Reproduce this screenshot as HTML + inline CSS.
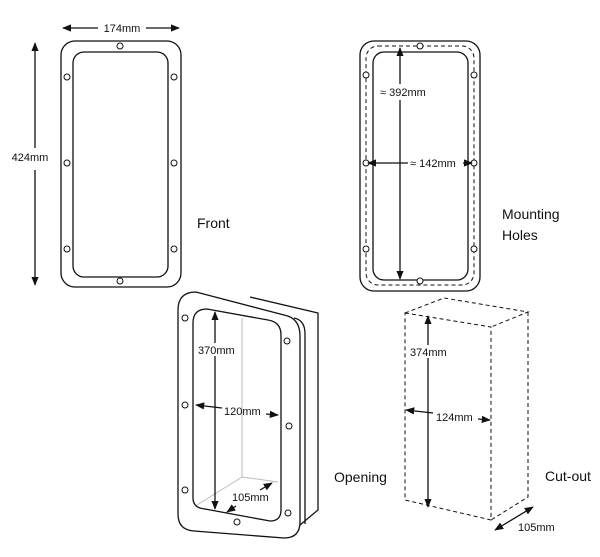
<!DOCTYPE html>
<html><head><style>body{margin:0;background:#fff}svg{display:block}text{font-family:"Liberation Sans",sans-serif;fill:#111}</style></head><body>
<svg width="600" height="557" viewBox="0 0 600 557" xmlns="http://www.w3.org/2000/svg">
<defs><marker id="a" viewBox="0 0 10 10" refX="9" refY="5" markerWidth="7" markerHeight="7" orient="auto-start-reverse"><path d="M0,1 L10,5 L0,9 Z" fill="#111"/></marker></defs>
<g fill="none" stroke="#111" stroke-width="1.3">
<!-- Front -->
<rect x="61" y="41" width="120" height="246" rx="14"/>
<rect x="73" y="52" width="95" height="225" rx="11"/>
<g stroke-width="1"><circle cx="120" cy="46" r="3"/><circle cx="67" cy="77" r="3"/><circle cx="174" cy="77" r="3"/><circle cx="67" cy="163" r="3"/><circle cx="174" cy="163" r="3"/><circle cx="67" cy="249" r="3"/><circle cx="174" cy="249" r="3"/><circle cx="120" cy="281" r="3"/></g>
<line x1="63" y1="28" x2="98" y2="28" marker-start="url(#a)"/><line x1="146" y1="28" x2="179" y2="28" marker-end="url(#a)"/>
<line x1="35" y1="43" x2="35" y2="148" marker-start="url(#a)"/><line x1="35" y1="170" x2="35" y2="285" marker-end="url(#a)"/>
<!-- Mounting -->
<rect x="360" y="41" width="120" height="250" rx="14"/>
<rect x="373" y="52" width="95" height="228" rx="11"/>
<rect x="366" y="46" width="108" height="239" rx="12" stroke-dasharray="4,3" stroke-width="1"/>
<g stroke-width="1" fill="#fff"><circle cx="420" cy="46" r="3"/><circle cx="366" cy="75" r="3"/><circle cx="474" cy="75" r="3"/><circle cx="366" cy="163" r="3"/><circle cx="474" cy="163" r="3"/><circle cx="366" cy="249" r="3"/><circle cx="474" cy="249" r="3"/><circle cx="420" cy="281" r="3"/></g>
<line x1="400" y1="48" x2="400" y2="84" marker-start="url(#a)"/><line x1="400" y1="100" x2="400" y2="279" marker-end="url(#a)"/>
<line x1="368" y1="163" x2="408" y2="163" marker-start="url(#a)"/><line x1="463" y1="163" x2="472" y2="163" marker-end="url(#a)"/>
<!-- Opening 3D -->
<path d="M250,297 L318,313 L318,510 L300,525"/>
<path d="M196,292 Q178,292 178,310 L178,514 Q178,530 194,531 L284,538 Q300,538 300,522 L300,336 Q300,318 284,315 Z" fill="#fff"/>
<path d="M294,318 Q305,320 305,334 L305,524"/>
<path d="M207,309 Q193,309 193,323 L193,498 Q193,508 205,509 L270,521 Q281,521 281,510 L281,335 Q281,322 268,320 Z"/>
<g stroke="#bbb" stroke-width="1"><line x1="242" y1="318" x2="242" y2="477"/><line x1="242" y1="477" x2="197" y2="505"/><line x1="242" y1="477" x2="278" y2="482"/></g>
<g stroke-width="1" fill="#fff"><circle cx="185" cy="318" r="3"/><circle cx="287" cy="341" r="3"/><circle cx="185" cy="405" r="3"/><circle cx="289" cy="426" r="3"/><circle cx="185" cy="490" r="3"/><circle cx="288" cy="513" r="3"/><circle cx="237" cy="522" r="3"/></g>
<line x1="215" y1="312" x2="215" y2="509" marker-start="url(#a)" marker-end="url(#a)"/>
<line x1="196" y1="405" x2="222" y2="408" marker-start="url(#a)"/><line x1="266" y1="414" x2="278" y2="415" marker-end="url(#a)"/>
<line x1="227" y1="512" x2="236" y2="506" marker-start="url(#a)"/><line x1="260" y1="490" x2="272" y2="483" marker-end="url(#a)"/>
<!-- Cut-out -->
<g stroke-dasharray="4,3" stroke-width="1"><path d="M405,313 L491,327 L491,520 L405,500 Z"/><path d="M405,313 L444,298 L528,312 L491,327"/><path d="M528,312 L528,497 L491,520"/></g>
<line x1="428" y1="316" x2="428" y2="507" marker-start="url(#a)" marker-end="url(#a)"/>
<line x1="406" y1="410" x2="433" y2="413" marker-start="url(#a)"/><line x1="478" y1="419" x2="490" y2="420" marker-end="url(#a)"/>
<line x1="495" y1="530" x2="533" y2="507" marker-start="url(#a)" marker-end="url(#a)"/>
</g>
<g font-size="11">
<text x="122" y="32" text-anchor="middle">174mm</text>
<text x="30" y="161" text-anchor="middle">424mm</text>
<text x="380" y="96">≈ 392mm</text>
<text x="410" y="167">≈ 142mm</text>
<rect x="197" y="343" width="40" height="13" fill="#fff"/>
<text x="198" y="354">370mm</text>
<text x="224" y="415">120mm</text>
<text x="232" y="501">105mm</text>
<rect x="409" y="345" width="40" height="13" fill="#fff"/>
<text x="410" y="356">374mm</text>
<text x="436" y="421">124mm</text>
<text x="518" y="531">105mm</text>
</g>
<g font-size="14">
<text x="197" y="228">Front</text>
<text x="502" y="219">Mounting</text>
<text x="502" y="240">Holes</text>
<text x="334" y="482">Opening</text>
<text x="545" y="481">Cut-out</text>
</g>
</svg>
</body></html>
